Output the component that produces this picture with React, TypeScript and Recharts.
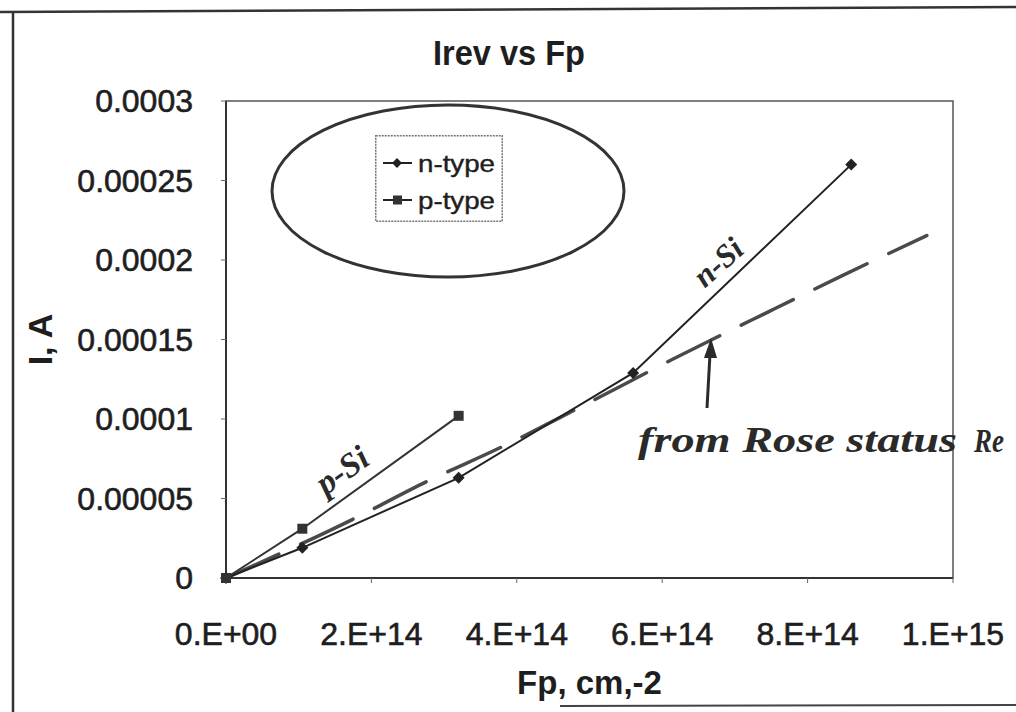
import React from 'react';
import { LineChart, Line, XAxis, YAxis, Legend, ReferenceArea } from 'recharts';

// ---- data ----
const xTicks = [0, 2e14, 4e14, 6e14, 8e14, 1e15];
const xTickLabels = ['0.E+00', '2.E+14', '4.E+14', '6.E+14', '8.E+14', '1.E+15'];
const yTicks = [0, 0.00005, 0.0001, 0.00015, 0.0002, 0.00025, 0.0003];
const yTickLabels = ['0', '0.00005', '0.0001', '0.00015', '0.0002', '0.00025', '0.0003'];

const nTypeFp = [0, 1.05e14, 3.2e14, 5.6e14, 8.6e14];
const nTypeI = [0, 1.9e-5, 6.3e-5, 1.29e-4, 2.6e-4];
const pTypeFp = [0, 1.05e14, 3.2e14];
const pTypeI = [0, 3.1e-5, 1.02e-4];
const roseFp = [0, 1.73e14, 2.76e14, 3.81e14, 4.87e14, 6.15e14, 7.46e14, 8.47e14, 9.64e14];
const roseI = [0, 3.66e-5, 6.06e-5, 8.28e-5, 1.074e-4, 1.377e-4, 1.674e-4, 1.9e-4, 2.154e-4];

const nType = nTypeFp.map((x, i) => ({ x, y: nTypeI[i] }));
const pType = pTypeFp.map((x, i) => ({ x, y: pTypeI[i] }));
const rose = roseFp.map((x, i) => ({ x, y: roseI[i] }));

const FONT = '"Liberation Sans", Arial, sans-serif';
const HAND = '"Liberation Serif", "DejaVu Serif", serif';
const INK = '#1e1e1e';

const pick = (ticks: number[], labels: string[]) => (v: number) => {
  const i = ticks.findIndex((t) => Math.abs(t - v) <= Math.abs(t) * 1e-9 + 1e-30);
  return i >= 0 ? labels[i] : String(v);
};

const DiamondDot = (props: any) => {
  const { cx, cy, index } = props;
  if (cx == null || cy == null) return <g key={`nd-${index}`} />;
  const r = 6;
  return (
    <path
      key={`nd-${index}`}
      d={`M${cx},${cy - r} L${cx + r},${cy} L${cx},${cy + r} L${cx - r},${cy} Z`}
      fill="#222"
    />
  );
};

const SquareDot = (props: any) => {
  const { cx, cy, index } = props;
  if (cx == null || cy == null) return <g key={`ps-${index}`} />;
  const s = 10;
  return <rect key={`ps-${index}`} x={cx - s / 2} y={cy - s / 2} width={s} height={s} fill="#333" />;
};

const LegendBox = (props: any) => {
  const payload = ((props.payload || []) as any[]).filter((p) => p.type !== 'none' && p.value !== 'Rose');
  return (
    <svg width={128} height={87} style={{ display: 'block' }}>
      <rect x={0.75} y={0.75} width={126.5} height={85.5} fill="#fff" stroke="#777" strokeWidth={1.5} strokeDasharray="2 1" />
      {payload.map((p, i) => {
        const cy = 28 + i * 37;
        return (
          <g key={`lg-${i}`}>
            <line x1={8} x2={37} y1={cy} y2={cy} stroke="#222" strokeWidth={2} />
            {p.value === 'n-type' ? (
              <path d={`M22,${cy - 5} L27,${cy} L22,${cy + 5} L17,${cy} Z`} fill="#222" />
            ) : (
              <rect x={18} y={cy - 4.5} width={9} height={9} fill="#333" />
            )}
            <text
              x={43}
              y={cy}
              dominantBaseline="central"
              fontFamily={FONT}
              fontSize={24}
              fill={INK}
              stroke={INK}
              strokeWidth={0.4}
              textLength={77}
              lengthAdjust="spacingAndGlyphs"
            >
              {p.value}
            </text>
          </g>
        );
      })}
    </svg>
  );
};

const tickStyle = {
  fontSize: 32,
  fontFamily: FONT,
  fill: INK,
  stroke: INK,
  strokeWidth: 0.6,
};

export default function App() {
  return (
    <div style={{ position: 'fixed', left: 0, top: 0, width: 1016, height: 712, background: '#fff', overflow: 'hidden' }}>
      <LineChart
        width={1016}
        height={712}
        margin={{ top: 101, right: 63, left: 0, bottom: 14 }}
      >
        <XAxis
          type="number"
          dataKey="x"
          domain={[0, 1e15]}
          ticks={xTicks}
          tickFormatter={pick(xTicks, xTickLabels)}
          height={120}
          tick={tickStyle}
          tickSize={5}
          tickMargin={39}
          axisLine={{ stroke: '#333', strokeWidth: 2 }}
          tickLine={{ stroke: '#666', strokeWidth: 1 }}
          interval={0}
          allowDuplicatedCategory={false}
          label={{
            content: (lp: any) => {
              const vb = lp.viewBox || { x: 226, y: 578, width: 727, height: 120 };
              return (
                <text
                  x={vb.x + vb.width / 2}
                  y={694}
                  textAnchor="middle"
                  fontFamily={FONT}
                  fontWeight="bold"
                  fontSize={33}
                  fill={INK}
                >
                  Fp, cm,-2
                </text>
              );
            },
          }}
        />
        <YAxis
          type="number"
          domain={[0, 0.0003]}
          ticks={yTicks}
          tickFormatter={pick(yTicks, yTickLabels)}
          width={226}
          tick={tickStyle}
          tickSize={5}
          tickMargin={28}
          interval={0}
          axisLine={{ stroke: '#333', strokeWidth: 2 }}
          tickLine={{ stroke: '#666', strokeWidth: 1 }}
          label={{
            content: (lp: any) => {
              const vb = lp.viewBox || { x: 0, y: 101, width: 226, height: 477 };
              const cx = 40;
              const cy = vb.y + vb.height / 2;
              return (
                <text
                  x={cx}
                  y={cy}
                  transform={`rotate(-90 ${cx} ${cy})`}
                  textAnchor="middle"
                  dominantBaseline="central"
                  fontFamily={FONT}
                  fontWeight="bold"
                  fontSize={34}
                  fill={INK}
                >
                  I, A
                </text>
              );
            },
          }}
        />
        <ReferenceArea x1={0} x2={1e15} y1={0} y2={0.0003} fill="none" stroke="#555" strokeWidth={1.5} />
        <Legend
          layout="horizontal"
          verticalAlign="middle"
          align="center"
          content={LegendBox}
          wrapperStyle={{ position: 'absolute', left: 375, top: 135, width: 128, height: 87 }}
        />
        <Line
          data={rose}
          dataKey="y"
          name="Rose"
          type="monotone"
          stroke="#4a4a4a"
          strokeWidth={3.5}
          strokeDasharray="58 24"
          strokeLinecap="round"
          dot={false}
          legendType="none"
          isAnimationActive={false}
        />
        <Line
          data={nType}
          dataKey="y"
          name="n-type"
          type="linear"
          stroke="#222"
          strokeWidth={2}
          dot={DiamondDot}
          isAnimationActive={false}
        />
        <Line
          data={pType}
          dataKey="y"
          name="p-type"
          type="linear"
          stroke="#333"
          strokeWidth={2}
          dot={SquareDot}
          isAnimationActive={false}
        />
      </LineChart>

      <svg
        width={1016}
        height={712}
        style={{ position: 'absolute', left: 0, top: 0, pointerEvents: 'none' }}
      >
        {/* scanned page frame */}
        <line x1={13} y1={13} x2={13} y2={712} stroke="#333" strokeWidth={2.5} />
        <line x1={0} y1={12} x2={1016} y2={7} stroke="#333" strokeWidth={2.5} />
        <line x1={560} y1={706} x2={1016} y2={705} stroke="#444" strokeWidth={2} />

        {/* title */}
        <text
          x={509}
          y={65}
          textAnchor="middle"
          fontFamily={FONT}
          fontWeight="bold"
          fontSize={35}
          fill={INK}
          textLength={152}
          lengthAdjust="spacingAndGlyphs"
        >
          Irev vs Fp
        </text>

        {/* hand-drawn oval around legend */}
        <ellipse cx={448} cy={191} rx={176} ry={86} fill="none" stroke="#333" strokeWidth={3} />

        {/* handwritten notes */}
        <text
          x={342}
          y={470}
          transform="rotate(-35 342 470)"
          textAnchor="middle"
          dominantBaseline="central"
          fontFamily={HAND}
          fontStyle="italic"
          fontWeight="bold"
          fontSize={34}
          fill="#2a2a2a"
        >
          p-Si
        </text>
        <text
          x={718}
          y={262}
          transform="rotate(-42 718 262)"
          textAnchor="middle"
          dominantBaseline="central"
          fontFamily={HAND}
          fontStyle="italic"
          fontWeight="bold"
          fontSize={32}
          fill="#2a2a2a"
        >
          n-Si
        </text>
        <text
          x={638}
          y={452}
          fontFamily={HAND}
          fontStyle="italic"
          fontWeight="bold"
          fontSize={36}
          fill="#2a2a2a"
          textLength={319}
          lengthAdjust="spacingAndGlyphs"
        >
          from Rose status
        </text>
        <text
          x={974}
          y={452}
          fontFamily={HAND}
          fontStyle="italic"
          fontWeight="bold"
          fontSize={34}
          fill="#2a2a2a"
          textLength={30}
          lengthAdjust="spacingAndGlyphs"
        >
          Re
        </text>
        <line x1={707} y1={408} x2={710} y2={354} stroke="#2a2a2a" strokeWidth={3} />
        <path d="M711,338 L717,358 L704,358 Z" fill="#2a2a2a" />
      </svg>
    </div>
  );
}
